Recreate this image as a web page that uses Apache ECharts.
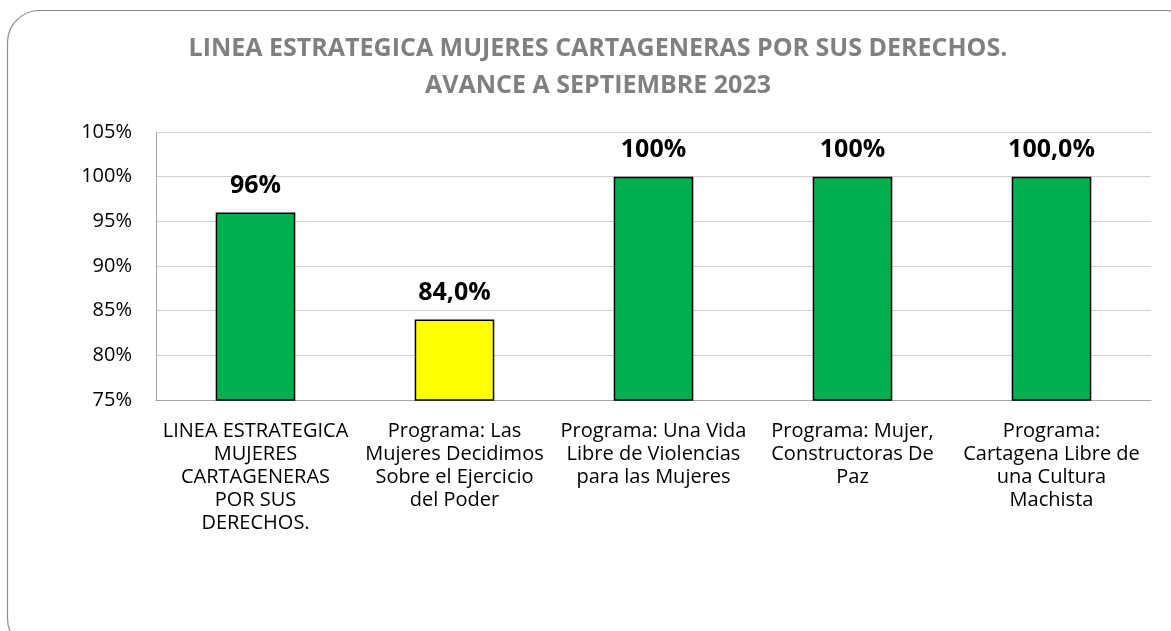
<!DOCTYPE html>
<html><head><meta charset="utf-8">
<script src="https://cdn.jsdelivr.net/npm/echarts@6/dist/echarts.min.js"></script>
<style>html,body{margin:0;padding:0;background:#fff}#c{width:1171px;height:631px}</style>
</head><body><div id="c"></div>
<script>
const categories = [
  "LINEA ESTRATEGICA\nMUJERES\nCARTAGENERAS\nPOR SUS\nDERECHOS.",
  "Programa: Las\nMujeres Decidimos\nSobre el Ejercicio\ndel Poder",
  "Programa: Una Vida\nLibre de Violencias\npara las Mujeres",
  "Programa: Mujer,\nConstructoras De\nPaz",
  "Programa:\nCartagena Libre de\nuna Cultura\nMachista"
];
const values = [96, 84, 100, 100, 100];
const valueLabels = ["96%", "84,0%", "100%", "100%", "100,0%"];
const barColors = ["#00B050", "#FFFF00", "#00B050", "#00B050", "#00B050"];
const yTicks = [75, 80, 85, 90, 95, 100, 105];

const chart = echarts.init(document.getElementById('c'), null, {renderer:'canvas'});
const font = '"Open Sans", Lato, sans-serif';
chart.setOption({
  animation: false,
  title: {
    text: 'LINEA ESTRATEGICA MUJERES CARTAGENERAS POR SUS DERECHOS.\nAVANCE A SEPTIEMBRE 2023',
    left: 593, textAlign: 'center', top: 25,
    textStyle: {fontFamily: font, fontSize: 25, fontWeight: 'bold', color: '#808080', lineHeight: 37}
  },
  graphic: [{
    type: 'rect', left: 5, top: 8, silent: true,
    shape: {width: 1190, height: 640, r: 32},
    style: {fill: 'none', stroke: '#8c8c8c', lineWidth: 1.2}
  }],
  grid: {left: 156, right: 20, top: 132, bottom: 231, containLabel: false},
  xAxis: {
    type: 'category', data: categories,
    axisLine: {show: true, lineStyle: {color: '#a6a6a6', width: 1}},
    axisTick: {show: false},
    axisLabel: {fontFamily: font, fontSize: 20, color: '#000', lineHeight: 23, margin: 20, interval: 0}
  },
  yAxis: {
    type: 'value', min: 75, max: 105, interval: 5,
    axisLine: {show: true, lineStyle: {color: '#a6a6a6', width: 1}},
    axisTick: {show: false},
    splitLine: {lineStyle: {color: '#d0d0d0', width: 1}},
    axisLabel: {fontFamily: font, fontSize: 20, color: '#000', margin: 24,
      formatter: v => yTicks.includes(v) ? v + '%' : ''}
  },
  series: [{
    type: 'bar', barWidth: '40%',
    data: values.map((v, i) => ({value: v, itemStyle: {color: barColors[i]}})),
    itemStyle: {borderColor: '#000', borderWidth: 1.5},
    label: {show: true, position: 'top', distance: 14,
      formatter: p => valueLabels[p.dataIndex],
      fontFamily: font, fontSize: 25, fontWeight: 'bold', color: '#000'}
  }]
});
</script></body></html>
